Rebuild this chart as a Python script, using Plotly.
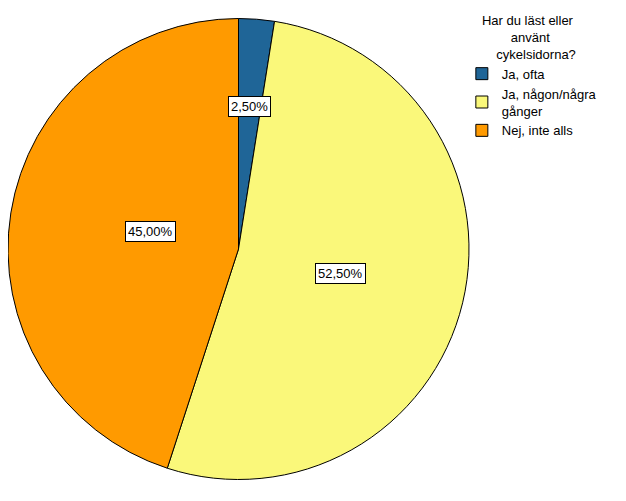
import plotly.graph_objects as go
import math

labels = ["Ja, ofta", "Ja, någon/några<br>gånger", "Nej, inte alls"]
values = [2.5, 52.5, 45.0]
text_labels = ["2,50%", "52,50%", "45,00%"]
colors = ["#1F6597", "#FAF87A", "#FF9A00"]

W, H = 626, 501
off = 8  # page body margin
x0, x1 = 5 - off, 469 - off
y0, y1 = 17 - off, 481 - off
fig = go.Figure(go.Pie(
    labels=labels, values=values, sort=False, direction="clockwise", rotation=0,
    marker=dict(colors=colors, line=dict(color="black", width=1)),
    textinfo="none", hoverinfo="label+percent",
    domain=dict(x=[max(x0, 0) / W, (x1 + min(x0, 0) * -1 * 0) / W], y=[1 - y1 / H, 1 - y0 / H]),
))
# keep circle geometry: domain x starting at 0 shifts by 3px; compensate width
fig.data[0].domain.x = [0, (x1 - x0 - 3) / W + 0]

cx, cy = (x0 + x1) / 2, (y0 + y1) / 2
R = (x1 - x0) / 2
total = sum(values)
cum = 0
rfrac = [0.66, 0.46, 0.49]
for v, t, rf in zip(values, text_labels, rfrac):
    mid = (cum + v / 2) / total * 2 * math.pi
    cum += v
    px = cx + rf * R * math.sin(mid)
    py = cy - rf * R * math.cos(mid)
    fig.add_annotation(x=px / W, y=1 - py / H, xref="paper", yref="paper",
                       text=t, showarrow=False, bgcolor="white",
                       bordercolor="black", borderwidth=1, borderpad=2,
                       font=dict(family="Liberation Sans", size=13, color="black"))

fig.update_layout(
    width=W, height=H, margin=dict(l=0, r=0, t=0, b=0),
    paper_bgcolor="white", plot_bgcolor="white",
    font=dict(family="Liberation Sans", size=13, color="black"),
    legend=dict(x=0.725, y=1.0, xanchor="left", yanchor="top",
                font=dict(size=13),
                title=dict(text="     Har du läst eller<br>             använt<br>         cykelsidorna?",
                           side="top", font=dict(size=13)),
                itemwidth=30, tracegroupgap=0),
)
fig.write_html("out.html")
